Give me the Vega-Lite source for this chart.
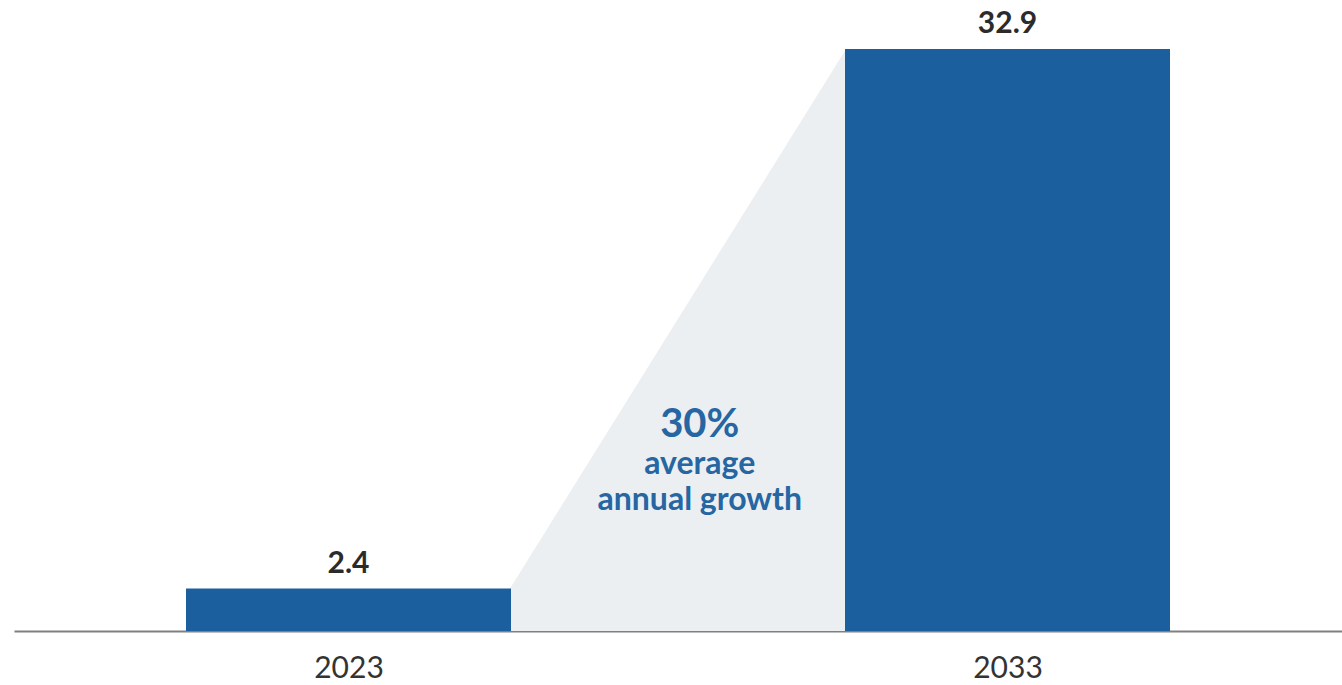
{
  "$schema": "https://vega.github.io/schema/vega-lite/v6.json",
  "width": 1328,
  "height": 631,
  "autosize": {"type": "none"},
  "padding": {"left": 14, "top": 0, "right": 0, "bottom": 54},
  "background": "#ffffff",
  "config": {"view": {"stroke": null}, "font": "Lato"},
  "datasets": {
    "market": [
      {"year": 2023, "value": 2.4},
      {"year": 2033, "value": 32.9}
    ],
    "growth": [
      {"year": 2025.45, "value": 2.4},
      {"year": 2030.55, "value": 32.9}
    ],
    "note": [
      {"line": "30%", "year": 2028.33, "value": 10.97, "kind": "big"},
      {"line": "average", "year": 2028.33, "value": 8.875, "kind": "small"},
      {"line": "annual growth", "year": 2028.33, "value": 6.84, "kind": "small"}
    ]
  },
  "layer": [
    {
      "data": {"name": "growth"},
      "mark": {"type": "area", "color": "#eceff1", "opacity": 1},
      "encoding": {
        "x": {
          "field": "year",
          "type": "quantitative",
          "scale": {"domain": [2018, 2038], "nice": false, "zero": false},
          "axis": {
            "values": [2023, 2033],
            "format": "d",
            "title": null,
            "grid": false,
            "ticks": false,
            "tickSize": 0,
            "domainColor": "#808080",
            "domainWidth": 2,
            "labelFont": "Lato",
            "labelFontSize": 30,
            "labelFontWeight": "normal",
            "labelColor": "#333333",
            "labelBaseline": "alphabetic",
            "labelPadding": 46,
            "labelFlush": false
          }
        },
        "y": {
          "field": "value",
          "type": "quantitative",
          "scale": {"domain": [0, 35.67], "nice": false},
          "axis": null
        }
      }
    },
    {
      "data": {"name": "market"},
      "mark": {"type": "bar", "size": 325, "color": "#1c5f9f"},
      "encoding": {
        "x": {"field": "year", "type": "quantitative"},
        "y": {"field": "value", "type": "quantitative"}
      }
    },
    {
      "data": {"name": "market"},
      "mark": {"type": "text", "font": "Lato", "fontWeight": "bold", "fontSize": 30, "baseline": "alphabetic", "dy": -16, "color": "#2b2b2b"},
      "encoding": {
        "x": {"field": "year", "type": "quantitative"},
        "y": {"field": "value", "type": "quantitative"},
        "text": {"field": "value", "type": "quantitative", "format": ".1f"}
      }
    },
    {
      "data": {"name": "note"},
      "mark": {"type": "text", "font": "Lato", "fontWeight": "bold", "baseline": "alphabetic", "color": "#2566a3"},
      "encoding": {
        "x": {"field": "year", "type": "quantitative"},
        "y": {"field": "value", "type": "quantitative"},
        "text": {"field": "line"},
        "size": {"field": "kind", "type": "nominal", "scale": {"domain": ["big", "small"], "range": [40, 32]}, "legend": null}
      }
    }
  ]
}
